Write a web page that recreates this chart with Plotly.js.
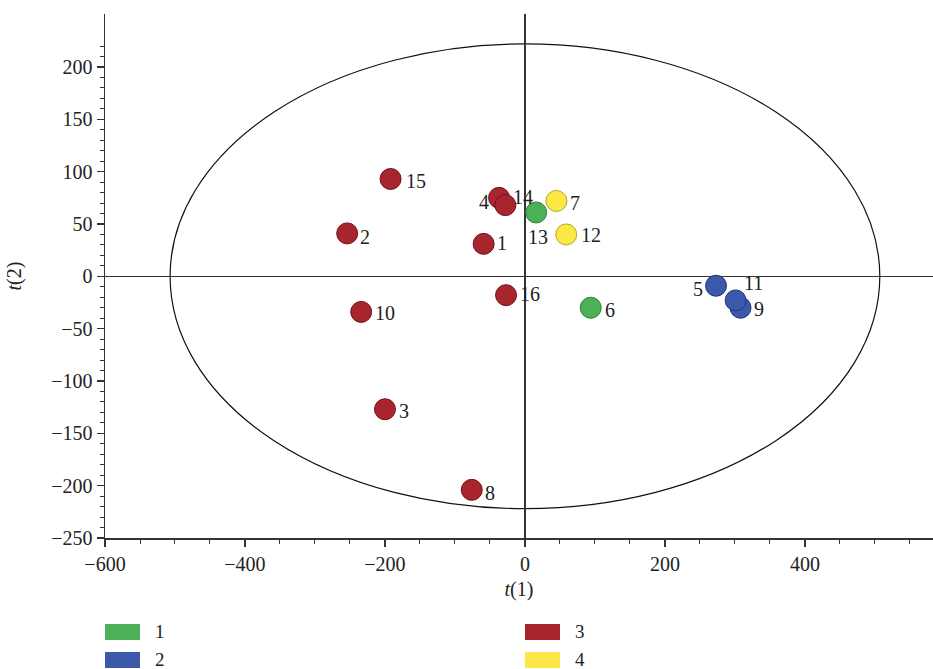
<!DOCTYPE html>
<html>
<head>
<meta charset="utf-8">
<script src="https://cdn.plot.ly/plotly-3.0.1.min.js"></script>
<style>html,body{margin:0;padding:0;background:#fff;}#chart{width:933px;height:669px;}</style>
</head>
<body>
<div id="chart"></div>
<script>
// ---- Data ----
const sampleLabels = ['1','2','3','4','5','6','7','8','9','10','11','12','13','14','15','16'];
const t1Values = [-59, -254, -200, -37, 273, 94, 45, -76, 308, -234, 301, 59, 16, -28, -192, -27];
const t2Values = [31, 41, -127, 75, -9, -30, 72, -204, -30, -34, -23, 40, 61, 68, 93, -18];
const sampleGroups = [3, 3, 3, 3, 2, 1, 4, 3, 2, 3, 2, 4, 1, 3, 3, 3];
const groupNames = ['1', '2', '3', '4'];
const groupIds = [1, 2, 3, 4];
const ellipseSemiAxes = [507, 222]; // Hotelling T2 ellipse semi-axes (t1, t2)
const xTickValues = [-600, -400, -200, 0, 200, 400];
const yTickValues = [-250, -200, -150, -100, -50, 0, 50, 100, 150, 200];

// ---- Styles / label placement (screen-pixel offsets of each label from its point) ----
const labelOffsets = [[18,-1],[18,4],[19,2],[-15,4],[-18,3],[19,2],[19,2],[18,3],[18,1],[24,1],[18,-17],[25,1],[2,25],[18,-8],[25,2],[24,-1]];
const groupColors = {1: '#4cb058', 2: '#3b58a9', 3: '#a8252d', 4: '#fbe845'};
const groupEdges = {1: '#2e7d38', 2: '#24377c', 3: '#6d1219', 4: '#b9a524'};
const serif = 'Liberation Serif, Times New Roman, serif';

const traces = groupIds.map(g => {
  const idx = sampleLabels.map((_, i) => i).filter(i => sampleGroups[i] === g);
  return {
    type: 'scatter',
    mode: 'markers',
    name: groupNames[g - 1],
    x: idx.map(i => t1Values[i]),
    y: idx.map(i => t2Values[i]),
    text: idx.map(i => sampleLabels[i]),
    marker: {size: 21, color: groupColors[g], line: {color: groupEdges[g], width: 1}},
    showlegend: false,
    cliponaxis: false,
    hoverinfo: 'x+y+text'
  };
});

const annotations = sampleLabels.map((lab, i) => ({
  xref: 'x', yref: 'y', x: t1Values[i], y: t2Values[i],
  xshift: labelOffsets[i][0], yshift: -labelOffsets[i][1],
  xanchor: 'center', yanchor: 'middle', showarrow: false, text: lab,
  font: {family: serif, size: 20, color: '#222'}
}));

// Manual legend (two columns, rectangle swatches)
const W = 933, H = 669, L = 105, R = 0, T = 14, B = 131;
const pw = W - L - R, ph = H - T - B;
const px = v => (v - L) / pw;
const py = v => (H - B - v) / ph;
const legendCols = {1: 105, 2: 105, 3: 525, 4: 525};
const legendRows = {1: 632, 2: 660, 3: 632, 4: 660};
const shapes = [{
  type: 'circle', xref: 'x', yref: 'y', layer: 'below',
  x0: -ellipseSemiAxes[0], x1: ellipseSemiAxes[0],
  y0: -ellipseSemiAxes[1], y1: ellipseSemiAxes[1],
  line: {color: '#111', width: 1.2}
}];
groupIds.forEach(g => {
  const x0 = legendCols[g], yc = legendRows[g];
  shapes.push({type: 'rect', xref: 'paper', yref: 'paper',
    x0: px(x0), x1: px(x0 + 35), y0: py(yc + 8), y1: py(yc - 8),
    fillcolor: groupColors[g], line: {width: 0}});
  annotations.push({xref: 'paper', yref: 'paper', x: px(x0 + 48), y: py(yc - 1),
    xanchor: 'left', yanchor: 'middle', showarrow: false, text: groupNames[g - 1],
    font: {family: serif, size: 19, color: '#222'}});
});

// minor tick positions (reference shows y minor ticks only up to 220)
const yMinor = [];
for (let v = -240; v <= 220; v += 10) if (v % 50 !== 0) yMinor.push(v);
const xMinor = [];
for (let v = -550; v <= 550; v += 50) if (v % 200 !== 0) xMinor.push(v);

const axisCommon = {
  showline: true, linecolor: '#333', linewidth: 1.5,
  ticks: 'outside', ticklen: 7, tickwidth: 1.3, tickcolor: '#333',
  zeroline: true, zerolinecolor: '#333', zerolinewidth: 1.3,
  showgrid: false, tickmode: 'array',
  tickfont: {family: serif, size: 20, color: '#222'}
};

const layout = {
  width: W, height: H,
  margin: {l: L, r: R, t: T, b: B},
  paper_bgcolor: '#fff', plot_bgcolor: '#fff',
  font: {family: serif, color: '#222'},
  xaxis: Object.assign({}, axisCommon, {
    range: [-600, 583], tickvals: xTickValues,
    minor: {ticks: 'outside', ticklen: 4, tickwidth: 1, tickcolor: '#333', tickmode: 'array', tickvals: xMinor, showgrid: false},
    title: {text: '<i>t</i>(1)', font: {family: serif, size: 20, color: '#222'}, standoff: 8}
  }),
  yaxis: Object.assign({}, axisCommon, {
    range: [-250, 250.6], tickvals: yTickValues,
    minor: {ticks: 'outside', ticklen: 4, tickwidth: 1, tickcolor: '#333', tickmode: 'array', tickvals: yMinor, showgrid: false},
    title: {text: '<i>t</i>(2)', font: {family: serif, size: 20, color: '#222'}, standoff: 24}
  }),
  shapes: shapes,
  annotations: annotations,
  showlegend: false
};

Plotly.newPlot('chart', traces, layout, {displayModeBar: false, staticPlot: true});
</script>
</body>
</html>
